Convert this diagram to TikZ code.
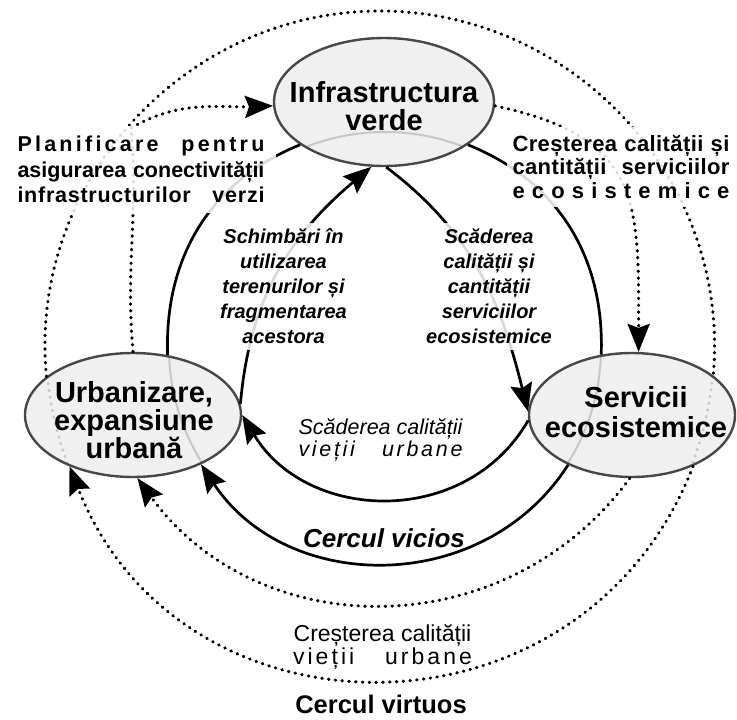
\documentclass[tikz,border=0pt]{standalone}
\usepackage{fontspec}
\setmainfont{Liberation Sans}
\usetikzlibrary{shapes.geometric,arrows.meta}
\newcommand{\myls}{\hspace{0pt plus 1fil}}
\newcommand{\mywg}[1]{\hspace{0pt plus #1fil}}
\begin{document}
\begin{tikzpicture}[x=1pt,y=1pt,
  guideline/.style={draw=black!22, line width=2pt},
  ell/.style={ellipse, draw=black!72, line width=2.4pt, fill=black!6, inner sep=0pt,
    path picture={
      \draw[guideline] (Osol) circle[radius=216pt];
      \draw[guideline, line width=3pt, line cap=round, dash pattern=on 0.5pt off 6.3pt] (Odot) circle[radius=334pt];
    }},
  elltext/.style={font=\bfseries\fontsize{29}{28}\selectfont, align=center, inner sep=0pt},
  solidline/.style={draw=black, line width=2.7pt},
  dotline/.style={draw=black, line width=3.2pt, line cap=round, dash pattern=on 0.5pt off 6.3pt},
  arr/.style={-{Stealth[length=28pt,width=22pt,inset=4pt]}},
  txtbox/.style={fill=white, fill opacity=0.85, text opacity=1, inner sep=0pt, align=center},
  plainlabel/.style={inner sep=0pt, align=center},
]
\useasboundingbox (0,0) rectangle (737,-720);
\coordinate (Osol) at (385,-348);
\coordinate (Odot) at (380,-345);
\coordinate (dtop) at (380,-11);
\coordinate (d1mid) at (131,-128);

% ellipses
\node[ell, minimum width=220pt, minimum height=128pt] (infra) at (384,-102) {};
\node[ell, minimum width=216pt, minimum height=124pt] (urb) at (133,-415) {};
\node[ell, minimum width=206pt, minimum height=124pt] (serv) at (632,-415) {};

% vicious circle (solid)
\draw[solidline] (urb.60) to[out=92,in=202] (infra.207);
\draw[solidline] (infra.-27) to[out=-22,in=88] (serv.117);
\draw[solidline, arr] (serv.218) .. controls +(-122.7:156) and +(-56.5:156) .. (urb.-36);
\draw[solidline, arr] (urb.6) to[out=85,in=220] (infra.259);
\draw[solidline, arr] (infra.272) to[out=-37,in=104] (serv.178);
\draw[solidline, arr] (serv.183) .. controls +(-120:125) and +(-59:125) .. (urb.0);

% virtuous circle (dotted)
\draw[dotline, arr] (urb.90) to[out=95,in=-85] (d1mid) to[out=30,in=182] (infra.182);
\draw[dotline, arr] (infra.-2) .. controls +(-12:150) and +(90:150) .. (serv.84);
\draw[dotline] (urb.156) .. controls +(95.5:195) and +(180:195) .. (dtop)
   .. controls +(0:195) and +(84.8:195) .. (serv.26);
\draw[dotline, arr] (serv.268) .. controls +(-126.1:207.5) and +(-54:207.5) .. (urb.-86);
\draw[dotline, arr] (serv.-40) .. controls +(-111.1:305) and +(-68.7:305) .. (urb.219);

% text boxes
\node[txtbox, minimum width=270pt, minimum height=87pt,
      font=\bfseries\fontsize{21.5}{25.5}\selectfont] (plan) at (141,-169.5)
 {\hbox to 247pt{P\myls l\myls a\myls n\myls i\myls f\myls i\myls c\myls a\myls r\myls e\mywg{7}p\myls e\myls n\myls t\myls r\myls u}\\
  \makebox[247pt][s]{asigurarea conectivității}\\
  \makebox[247pt][s]{\addfontfeature{LetterSpace=3.5}infrastructurilor\ \ verzi}};
\node[txtbox, minimum width=228pt, minimum height=80pt,
      font=\bfseries\fontsize{22}{23.5}\selectfont] (crest) at (621,-167)
 {\makebox[217pt][s]{\addfontfeature{LetterSpace=1.8}Creșterea calității și}\\
  \makebox[217pt][s]{\addfontfeature{LetterSpace=1.8}cantității serviciilor}\\
  \hbox to 217pt{e\myls c\myls o\myls s\myls i\myls s\myls t\myls e\myls m\myls i\myls c\myls e}};
\node[txtbox, minimum width=143pt, minimum height=127pt,
      font=\bfseries\itshape\fontsize{20}{25}\selectfont] (schimb) at (283.5,-286)
 {Schimbări în\\utilizarea\\terenurilor și\\fragmentarea\\acestora};
\node[txtbox, minimum width=140pt, minimum height=127pt,
      font=\bfseries\itshape\fontsize{20}{25}\selectfont] (scad) at (489,-286)
 {Scăderea\\calității și\\cantității\\serviciilor\\ecosistemice};

% ellipse texts
\node[elltext] (infratext) at (384,-105.7) {Infrastructura\\verde};
\node[elltext] (urbtext) at (134,-420) {Urbanizare,\\expansiune\\urbană};
\node[elltext, font=\bfseries\fontsize{29}{30}\selectfont] (servtext) at (636,-411.7) {Servicii\\ecosistemice};

% other labels
\node[plainlabel, font=\itshape\fontsize{21.5}{22}\selectfont] (scadvieti) at (380.5,-440.3)
 {Scăderea calității\\
  \hbox to 164pt{v\myls i\myls e\myls ț\myls i\myls i\mywg{10}u\myls r\myls b\myls a\myls n\myls e}};
\node[plainlabel, font=\fontsize{23}{23}\selectfont] (crestvieti) at (382.5,-647.4)
 {Creșterea calității\\
  \hbox to 179pt{v\myls i\myls e\myls ț\myls i\myls i\mywg{10}u\myls r\myls b\myls a\myls n\myls e}};
\node[plainlabel, anchor=base, font=\bfseries\itshape\fontsize{26}{26}\selectfont] (vicios) at (384,-547) {Cercul vicios};
\node[plainlabel, anchor=base, font=\bfseries\fontsize{25.5}{26}\selectfont] (virtuos) at (381,-713) {Cercul virtuos};
\end{tikzpicture}
\end{document}
